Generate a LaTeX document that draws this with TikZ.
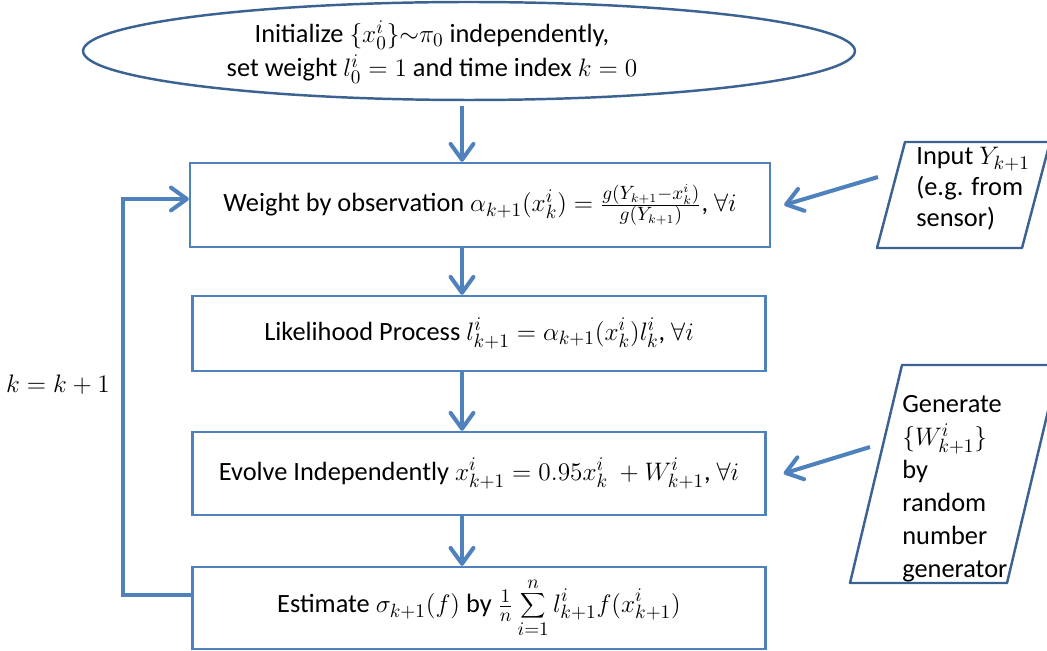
\documentclass[tikz,border=0pt]{standalone}
\usepackage{fontspec}
\setmainfont{Carlito}
\usetikzlibrary{shapes.geometric,arrows.meta,calc}

\definecolor{boxblue}{RGB}{79,129,189}
\definecolor{edgeblue}{RGB}{60,98,145}

\tikzset{
  stepbox/.style={draw=boxblue, line width=1.4pt, rectangle, inner sep=0pt, minimum width=11.46cm},
  flow/.style={draw=boxblue, line width=2.3pt, -{Straight Barb[length=9pt,width=13pt,round]}},
  ioshape/.style={draw=edgeblue, line width=1.4pt, line join=round},
}

\begin{document}
\begin{tikzpicture}[x=0.02cm, y=-0.02cm, font=\fontsize{15pt}{17.5pt}\selectfont]
\useasboundingbox (0,0) rectangle (1047,651);

% start
\node[draw=edgeblue, line width=1.4pt, ellipse, inner sep=0pt, minimum width=15.44cm, minimum height=1.96cm] (ini) at (469,51) {};
\node[align=center, font=\fontsize{15pt}{19.3pt}\selectfont] (initxt) at (432,52)
  {Initialize $\{x_0^i\}{\sim}\pi_0$ independently,\\ set weight $l_0^i=1$ and time index $k=0$};

% main steps
\node[stepbox, minimum width=11.6cm, minimum height=1.68cm] (b1) at (480,205)
  {Weight by observation $\alpha_{k+1}\bigl(x_k^i\bigr)=\frac{g(Y_{k+1}-x_k^i)}{g(Y_{k+1})}$, $\forall i$};
\node[stepbox, minimum height=1.5cm] (b2) at (479,333.5)
  {Likelihood Process $l_{k+1}^i=\alpha_{k+1}\bigl(x_k^i\bigr)l_k^i$, $\forall i$};
\node[stepbox, minimum height=1.66cm] (b3) at (479,473.5)
  {Evolve Independently $x_{k+1}^i=0.95x_k^i\ +W_{k+1}^i$, $\forall i$};
\node[stepbox, minimum height=1.64cm] (b4) at (479,608)
  {Estimate $\sigma_{k+1}(f)$ by $\frac{1}{n}\displaystyle\sum_{i=1}^{n} l_{k+1}^i f(x_{k+1}^i)$};

% inputs
\draw[ioshape] (877,248) -- (1022,248) -- (1050,142) -- (905,142) -- cycle;
\node[anchor=north west, inner sep=0pt, align=left] (inp) at (916,147)
  {Input $Y_{k+1}$\\(e.g. from\\sensor)};
\coordinate (inpL) at (878,177);

\draw[ioshape] (850,583) -- (1007,583) -- (1059,365) -- (902,365) -- cycle;
\node[anchor=north west, inner sep=0pt, align=left, font=\fontsize{15pt}{18.8pt}\selectfont] (gen) at (902,395)
  {Generate\\$\{W_{k+1}^i\}$\\by\\random\\number\\generator};
\coordinate (genL) at (870,447);

% arrows
\draw[flow] ($(ini.south)+(-7,5)$) -- ($(b1.north)+(-18,0)$);
\draw[flow] ($(b1.south)+(-18,0)$) -- ($(b2.north)+(-17,0)$);
\draw[flow] ($(b2.south)+(-17,0)$) -- ($(b3.north)+(-17,0)$);
\draw[flow] ($(b3.south)+(-17,0)$) -- ($(b4.north)+(-17,0)$);
\draw[flow] (inpL) -- ($(b1.east)+(13,0)$);
\draw[flow] (genL) -- ($(b3.east)+(17,0)$);

% loop back
\draw[flow] ($(b4.west)+(0,-13)$) -- ++(-68,0) |- ($(b1.west)+(0,-6)$);
\node (incr) at (58,385) {$k=k+1$};
\end{tikzpicture}
\end{document}
